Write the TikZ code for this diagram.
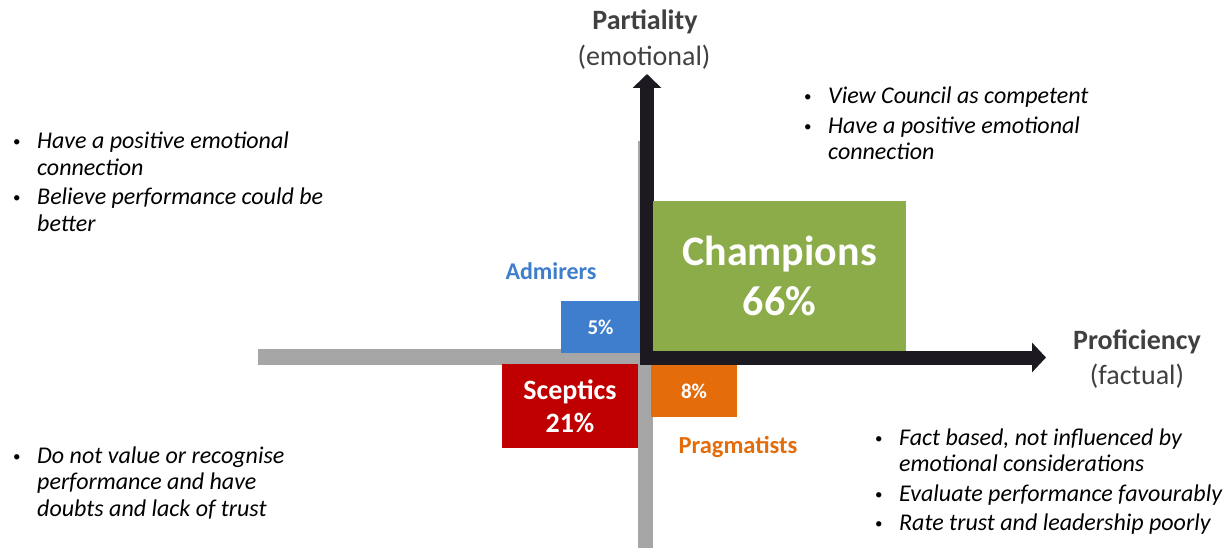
\documentclass[tikz,border=0pt]{standalone}
\usepackage{fontspec}
\setmainfont{Carlito}
\usetikzlibrary{arrows.meta}
\definecolor{axisgray}{RGB}{166,166,166}
\definecolor{axisblack}{RGB}{28,26,32}
\definecolor{titlegray}{RGB}{64,64,64}
\definecolor{admblue}{RGB}{62,126,204}
\definecolor{champgreen}{RGB}{139,172,72}
\definecolor{scepred}{RGB}{192,0,0}
\definecolor{pragorange}{RGB}{228,108,10}
\newcommand{\notelist}[1]{\begin{tabular}[t]{@{}p{25pt}@{}l@{}}#1\end{tabular}}
\newcommand{\bul}{\hspace*{1pt}{\upshape\fontsize{15}{15}\selectfont\raisebox{2pt}{\textbullet}}}

\begin{document}
\begin{tikzpicture}[x=1pt,y=-1pt,
  segbox/.style={inner sep=0pt,text=white,align=center},
  notes/.style={anchor=base west,inner sep=0pt,font=\itshape\fontsize{24}{26.5}\selectfont},
  axtitle/.style={inner sep=0pt,text=titlegray,font=\bfseries\fontsize{28}{32}\selectfont},
  axsub/.style={inner sep=0pt,text=titlegray,font=\fontsize{28}{32}\selectfont}]
  \useasboundingbox (0,0) rectangle (1227,548);

  % Grey cross
  \fill[axisgray] (258,349) rectangle (641,365);
  \fill[axisgray] (638,141) rectangle (653,548);

  % Black axes
  \coordinate (ytip) at (647,74);
  \coordinate (xtip) at (1046,357.5);
  \draw[axisblack,line width=14pt,line join=miter,
    {Triangle[width=28pt,length=14pt]}-{Triangle[width=29pt,length=14pt]}] (ytip) |- (xtip);

  % Segment boxes
  \node[segbox,fill=champgreen,minimum width=253pt,minimum height=150pt,
    font=\bfseries\fontsize{42}{50}\selectfont] (champ) at (779.5,276) {Champions\\66\%};
  \node[segbox,fill=admblue,minimum width=79pt,minimum height=52pt,
    font=\bfseries\fontsize{21}{24}\selectfont] (adm) at (600.5,327) {5\%};
  \node[segbox,fill=scepred,minimum width=136pt,minimum height=84pt,
    font=\bfseries\fontsize{28}{33}\selectfont] (scep) at (570,406) {Sceptics\\21\%};
  \node[segbox,fill=pragorange,minimum width=86pt,minimum height=52pt,
    font=\bfseries\fontsize{21}{24}\selectfont] (prag) at (694,391) {8\%};

  % Segment names
  \node[inner sep=0pt,text=admblue,font=\bfseries\fontsize{24}{26}\selectfont] (admname) at (551,271) {Admirers};
  \node[inner sep=0pt,text=pragorange,font=\bfseries\fontsize{24.5}{26}\selectfont] (pragname) at (738,447) {Pragmatists};

  % Axis titles
  \node[axtitle] (ytitle) at (645,22) {Partiality};
  \node[axsub] (ysub) at (644,57) {(emotional)};
  \node[axtitle] (xtitle) at (1137,342) {Proficiency};
  \node[axsub] (xsub) at (1137,376) {(factual)};

  % Notes
  \node[notes] (admnotes) at (12,149) {\notelist{
    \bul & Have a positive emotional\\
    & connection\\[3pt]
    \bul & Believe performance could be\\
    & better}};
  \node[notes] (champnotes) at (803,104) {\notelist{
    \bul & View Council as competent\\[3pt]
    \bul & Have a positive emotional\\
    & connection}};
  \node[notes] (scepnotes) at (12,463) {\notelist{
    \bul & Do not value or recognise\\
    & performance and have\\
    & doubts and lack of trust}};
  \node[notes] (pragnotes) at (874,445) {\notelist{
    \bul & Fact based, not influenced by\\
    & emotional considerations\\[3pt]
    \bul & Evaluate performance favourably\\[3pt]
    \bul & Rate trust and leadership poorly}};
\end{tikzpicture}
\end{document}
